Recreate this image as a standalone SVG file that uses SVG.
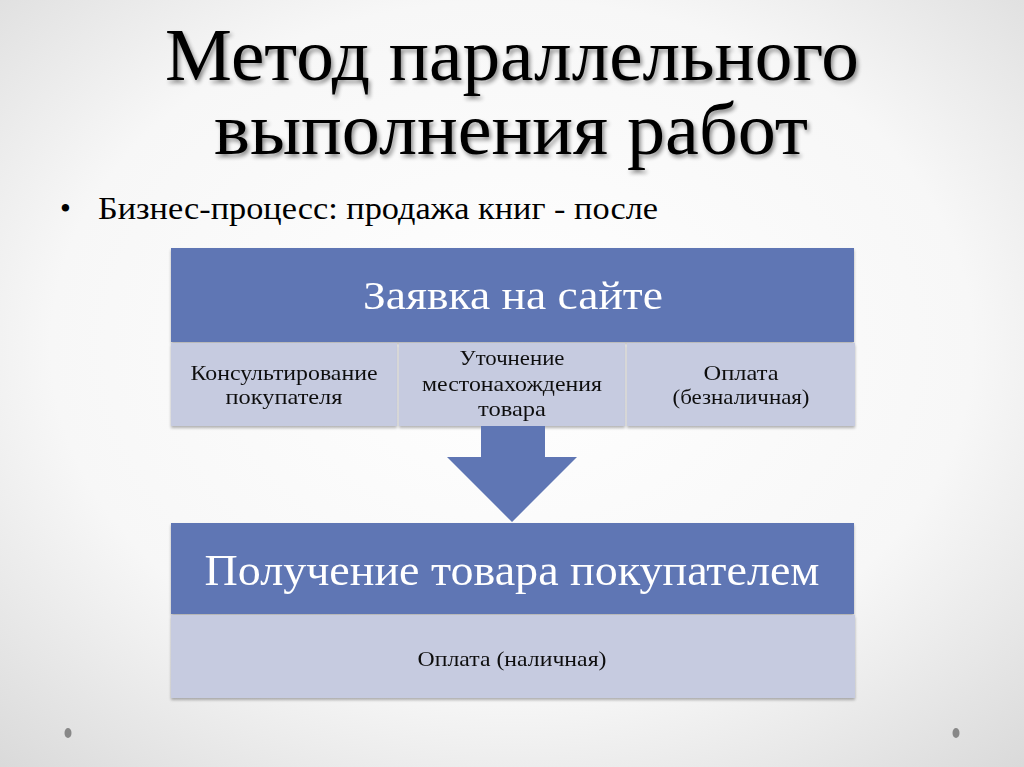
<svg xmlns="http://www.w3.org/2000/svg" width="1024" height="767" viewBox="0 0 1024 767">
<defs>
<radialGradient id="bg" cx="50%" cy="45%" r="75%">
<stop offset="0" stop-color="#ffffff"/>
<stop offset="0.6" stop-color="#f7f7f7"/>
<stop offset="1" stop-color="#d9d9d9"/>
</radialGradient>
<filter id="ts" x="-5%" y="-20%" width="110%" height="140%">
<feGaussianBlur in="SourceAlpha" stdDeviation="2"/>
<feOffset dx="2" dy="3" result="b"/>
<feComponentTransfer><feFuncA type="linear" slope="0.45"/></feComponentTransfer>
<feMerge><feMergeNode/><feMergeNode in="SourceGraphic"/></feMerge>
</filter>
<filter id="sh" x="-5%" y="-5%" width="110%" height="115%">
<feGaussianBlur in="SourceAlpha" stdDeviation="1.5"/>
<feOffset dx="0" dy="2"/>
<feComponentTransfer><feFuncA type="linear" slope="0.3"/></feComponentTransfer>
<feMerge><feMergeNode/><feMergeNode in="SourceGraphic"/></feMerge>
</filter>
</defs>
<style>
.title{font-family:"Liberation Serif",serif;font-size:74px;fill:#000;text-anchor:middle}
.bul{font-family:"Liberation Serif",serif;font-size:31px;fill:#000}
.hdr{font-family:"Liberation Serif",serif;fill:#fff;text-anchor:middle}
.blue{fill:#5f76b4}
.light{fill:#c6cbe0}
.sub{font-family:"Liberation Serif",serif;font-size:21px;fill:#111;text-anchor:middle}
</style>
<rect width="1024" height="767" fill="url(#bg)"/>
<g filter="url(#ts)">
<text class="title" x="512" y="80" textLength="694" lengthAdjust="spacingAndGlyphs">Метод параллельного</text>
<text class="title" x="511" y="154" textLength="594" lengthAdjust="spacingAndGlyphs">выполнения работ</text>
</g>
<text class="bul" x="60" y="219">•</text>
<text class="bul" x="98" y="219" textLength="560" lengthAdjust="spacingAndGlyphs">Бизнес-процесс: продажа книг - после</text>

<g id="node-top" filter="url(#sh)">
<rect class="blue" x="171" y="248" width="683" height="94"/>
<text class="hdr" x="513" y="309" font-size="40" textLength="300" lengthAdjust="spacingAndGlyphs">Заявка на сайте</text>
</g>
<g id="node-consult" filter="url(#sh)">
<rect class="light" x="171" y="343" width="226" height="83"/>
<text class="sub" x="284" y="380" textLength="187" lengthAdjust="spacingAndGlyphs">Консультирование</text>
<text class="sub" x="284" y="404" textLength="117" lengthAdjust="spacingAndGlyphs">покупателя</text>
</g>
<g id="node-locate" filter="url(#sh)">
<rect class="light" x="399" y="343" width="226" height="83"/>
<text class="sub" x="512" y="365" textLength="105" lengthAdjust="spacingAndGlyphs">Уточнение</text>
<text class="sub" x="512" y="391" textLength="180" lengthAdjust="spacingAndGlyphs">местонахождения</text>
<text class="sub" x="512" y="416" textLength="68" lengthAdjust="spacingAndGlyphs">товара</text>
</g>
<g id="node-pay1" filter="url(#sh)">
<rect class="light" x="627" y="343" width="228" height="83"/>
<text class="sub" x="741" y="380" textLength="75" lengthAdjust="spacingAndGlyphs">Оплата</text>
<text class="sub" x="741" y="404" textLength="137" lengthAdjust="spacingAndGlyphs">(безналичная)</text>
</g>

<g id="connectors">
<polygon class="blue" points="481,426 545,426 545,457 577,457 512,522 447,457 481,457"/>
</g>

<g id="node-bottom" filter="url(#sh)">
<rect class="blue" x="171" y="523" width="683" height="91"/>
<text class="hdr" x="512" y="585" font-size="45" textLength="615" lengthAdjust="spacingAndGlyphs">Получение товара покупателем</text>
</g>
<g id="node-pay2" filter="url(#sh)">
<rect class="light" x="171" y="615" width="684" height="83"/>
<text class="sub" x="512" y="666" textLength="189" lengthAdjust="spacingAndGlyphs">Оплата (наличная)</text>
</g>

<ellipse cx="68" cy="733" rx="3.5" ry="5" fill="#888"/>
<ellipse cx="956" cy="733" rx="3.5" ry="5" fill="#888"/>
</svg>
